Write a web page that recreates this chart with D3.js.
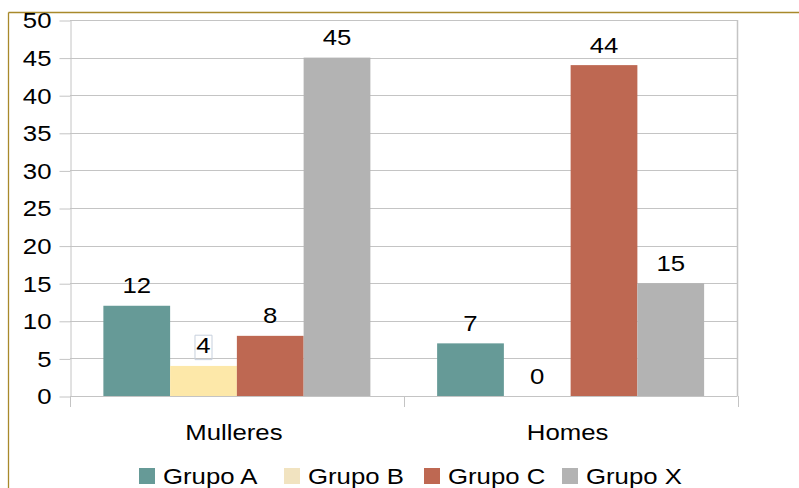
<!DOCTYPE html>
<html>
<head>
<meta charset="utf-8">
<script src="https://cdn.jsdelivr.net/npm/d3@7/dist/d3.min.js"></script>
<style>
  html, body { margin: 0; padding: 0; background: #fff; }
  svg { display: block; }
  text { font-family: "Liberation Sans", Arial, sans-serif; fill: #000; }
</style>
</head>
<body>
<svg id="chart" width="799" height="488"></svg>
<script>
// Chart data
const categories = ["Mulleres", "Homes"];
const seriesNames = ["Grupo A", "Grupo B", "Grupo C", "Grupo X"];
const grupoA = [12, 7];
const grupoB = [4, 0];
const grupoC = [8, 44];
const grupoX = [45, 15];
const yTicks = [0, 5, 10, 15, 20, 25, 30, 35, 40, 45, 50];

const seriesValues = [grupoA, grupoB, grupoC, grupoX];
const colors = ["#669a97", "#fde8a9", "#be6852", "#b3b3b3"];
const legendColors = ["#669a97", "#f1e3c0", "#be6852", "#b3b3b3"];

const FS = 23;        // font size
const SX = 1.12;      // horizontal stretch of the lettering

const svg = d3.select("#chart");

// Frame lines along the top and left edge
svg.append("line").attr("x1", 8.5).attr("x2", 799).attr("y1", 12.5).attr("y2", 12.5)
  .attr("stroke", "#a8892b").attr("stroke-width", 1.3);
svg.append("line").attr("x1", 8.5).attr("x2", 8.5).attr("y1", 12.5).attr("y2", 488)
  .attr("stroke", "#a8892b").attr("stroke-width", 1.3);

const plot = { left: 70, right: 737.5, top: 20, bottom: 396 };

const y = d3.scaleLinear().domain([0, 50]).range([plot.bottom, plot.top]);
const x0 = d3.scaleBand().domain(categories).range([plot.left, plot.right]).padding(0);
const bw = x0.bandwidth();
const x1 = d3.scaleBand().domain(seriesNames).range([bw * 0.1, bw * 0.9]).padding(0);

// Places a stretched text label anchored at (x, y)
function label(parent, x, yy, txt, anchor) {
  const g = parent.append("g").attr("transform", `translate(${x},${yy}) scale(${SX},1)`);
  g.append("text").attr("text-anchor", anchor || "middle").attr("font-size", FS).text(txt);
  return g;
}

// Horizontal gridlines
svg.append("g").selectAll("line").data(yTicks).join("line")
  .attr("x1", plot.left).attr("x2", plot.right)
  .attr("y1", d => Math.round(y(d)) + 0.5).attr("y2", d => Math.round(y(d)) + 0.5)
  .attr("stroke", "#c4c4c4").attr("stroke-width", 1);

// Right border of the plot area
svg.append("line").attr("x1", plot.right).attr("x2", plot.right)
  .attr("y1", plot.top).attr("y2", plot.bottom)
  .attr("stroke", "#c4c4c4").attr("stroke-width", 1.5);

// Y axis
const yAxis = svg.append("g").attr("transform", `translate(${plot.left + 0.5},0.5)`)
  .call(d3.axisLeft(y).tickValues(yTicks).tickSize(11).tickPadding(6).tickSizeOuter(0));
yAxis.select(".domain").attr("stroke", "#c4c4c4");
yAxis.selectAll(".tick line").attr("stroke", "#c4c4c4");
yAxis.selectAll(".tick text").attr("font-size", FS).attr("font-family", "Liberation Sans, Arial, sans-serif")
  .attr("fill", "#000").attr("transform", `scale(${SX},1)`);

// Category boundary ticks below the baseline
const bounds = [...categories.map(c => x0(c)), x0(categories[categories.length - 1]) + bw];
svg.append("g").selectAll("line").data(bounds).join("line")
  .attr("x1", d => Math.round(d) + 0.5).attr("x2", d => Math.round(d) + 0.5)
  .attr("y1", plot.bottom).attr("y2", plot.bottom + 11)
  .attr("stroke", "#c4c4c4");

// Bars
const bars = svg.append("g");
categories.forEach((c, ci) => {
  seriesNames.forEach((s, si) => {
    const v = seriesValues[si][ci];
    bars.append("rect")
      .attr("x", x0(c) + x1(s))
      .attr("width", x1.bandwidth())
      .attr("y", y(v))
      .attr("height", y(0) - y(v))
      .attr("fill", colors[si]);
  });
});

// Value labels
const vals = svg.append("g");
categories.forEach((c, ci) => {
  seriesNames.forEach((s, si) => {
    const v = seriesValues[si][ci];
    const g = label(vals, x0(c) + x1(s) + x1.bandwidth() / 2, y(v) - 12.5, v);
    if (ci === 0 && si === 1) {
      // highlight frame around this label
      const b = g.select("text").node().getBBox();
      g.insert("rect", "text")
        .attr("x", b.x - 1.2).attr("y", b.y + 2.5)
        .attr("width", b.width + 2.4).attr("height", b.height - 1)
        .attr("fill", "none").attr("stroke", "#c7d0dd").attr("stroke-width", 1)
        .attr("vector-effect", "non-scaling-stroke");
    }
  });
});

// Category labels
const cats = svg.append("g");
categories.forEach(c => label(cats, x0(c) + bw / 2 - 3, 440, c));

// Legend
const legendX = [139, 284, 424, 562];
const legend = svg.append("g");
seriesNames.forEach((s, i) => {
  legend.append("rect").attr("x", legendX[i]).attr("y", 468).attr("width", 16).attr("height", 16)
    .attr("fill", legendColors[i]);
  label(legend, legendX[i] + 24, 484, s, "start");
});
</script>
</body>
</html>
